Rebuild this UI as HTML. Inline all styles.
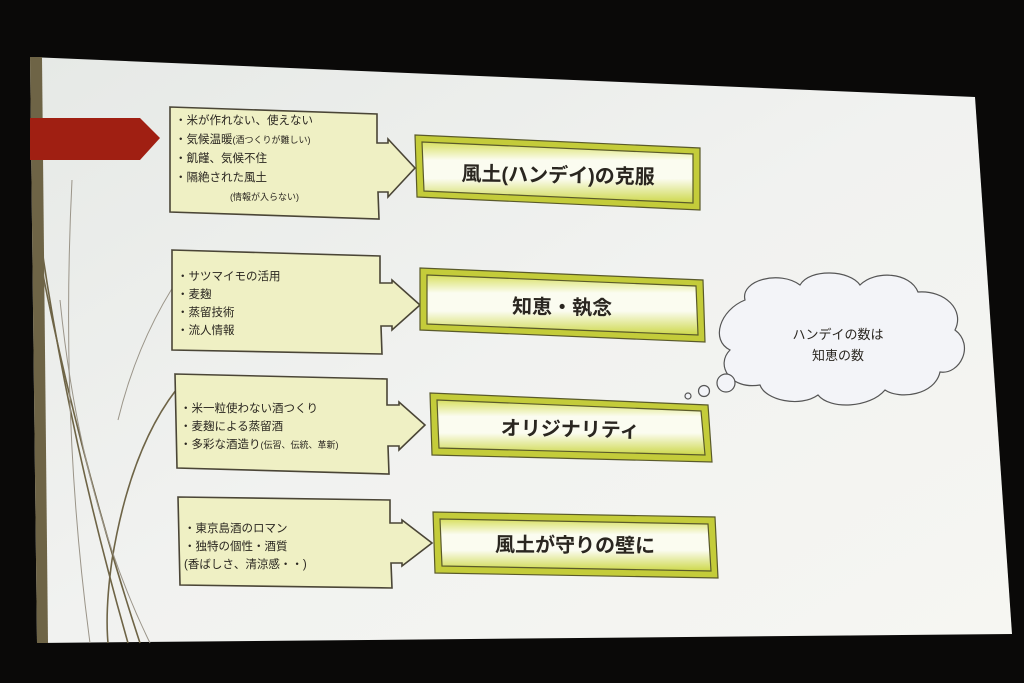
<!DOCTYPE html>
<html><head><meta charset="utf-8"><style>
html,body{margin:0;padding:0;background:#0a0908;}
svg{display:block}
text{font-family:"Liberation Sans","Noto Sans CJK JP",sans-serif;fill:#2a2620;}
</style></head><body>
<svg width="1024" height="683" viewBox="0 0 1024 683" xmlns="http://www.w3.org/2000/svg">
<defs>
<linearGradient id="bg" x1="0" y1="0" x2="1" y2="1">
<stop offset="0" stop-color="#e6e9e6"/><stop offset="0.5" stop-color="#f1f2f0"/><stop offset="1" stop-color="#f6f6f2"/>
</linearGradient>
<linearGradient id="inner" x1="0" y1="0" x2="0" y2="1">
<stop offset="0" stop-color="#d8e060"/><stop offset="0.3" stop-color="#fbfcf0"/><stop offset="0.6" stop-color="#fbfcf0"/><stop offset="1" stop-color="#cdd84a"/>
</linearGradient>
</defs>
<rect width="1024" height="683" fill="#0a0908"/>
<polygon points="30,57 975,97 1012,634 37,643" fill="url(#bg)"/>
<polygon points="30,57 42,57 48,643 37,643" fill="#6e6446"/>
<g fill="none" stroke="#6e6446" stroke-width="1.6">
<path d="M42,250 Q70,440 128,643"/>
<path d="M42,270 Q80,460 140,643"/>
<path d="M176,390 Q130,450 112,560 Q105,610 108,643"/>
</g>
<g fill="none" stroke="#9a9488" stroke-width="1">
<path d="M72,180 Q60,420 90,643"/>
<path d="M190,262 Q140,330 118,420"/>
<path d="M60,300 Q80,500 150,643"/>
</g>
<polygon points="30,118 140,118 160,138 140,160 30,160" fill="#a01f12"/>
<g fill="#eff0c4" stroke="#4a4536" stroke-width="1.6">
<polygon points="170,107 377,114 377,143 388,143 388,139 415,168 388,197 388,192 378,192 379,219 170,212"/>
<polygon points="172,250 380,256 380,283 392,283 392,280 420,305 392,330 392,326 381,326 382,354 172,350"/>
<polygon points="175,374 387,379 387,405 399,405 399,402 425,425 399,450 399,446 388,446 389,474 177,468"/>
<polygon points="178,497 390,500 390,523 402,523 402,520 432,543 402,566 402,563 391,563 392,588 180,585"/>
</g>
<g font-size="11.5">
<text x="175" y="124">・米が作れない、使えない</text>
<text x="175" y="143">・気候温暖<tspan font-size="9">(酒つくりが難しい)</tspan></text>
<text x="175" y="162">・飢饉、気候不住</text>
<text x="175" y="181">・隔絶された風土</text>
<text x="230" y="200" font-size="9">(情報が入らない)</text>
<text x="177" y="280">・サツマイモの活用</text>
<text x="177" y="298">・麦麹</text>
<text x="177" y="316">・蒸留技術</text>
<text x="177" y="334">・流人情報</text>
<text x="180" y="412">・米一粒使わない酒つくり</text>
<text x="180" y="430">・麦麹による蒸留酒</text>
<text x="180" y="448">・多彩な酒造り<tspan font-size="9">(伝習、伝統、革新)</tspan></text>
<text x="184" y="532">・東京島酒のロマン</text>
<text x="184" y="550">・独特の個性・酒質</text>
<text x="184" y="568">(香ばしさ、清涼感・・)</text>
</g>
<g stroke="#5a5a2a" stroke-width="1.2">
<polygon points="415,135 700,148 700,210 417,197" fill="#c4cc3a"/>
<polygon points="422,142 693,154 693,203 424,191" fill="url(#inner)"/>
<polygon points="420,268 703,280 705,342 420,330" fill="#c4cc3a"/>
<polygon points="427,275 696,286 698,335 427,324" fill="url(#inner)"/>
<polygon points="430,393 708,405 712,462 432,455" fill="#c4cc3a"/>
<polygon points="437,400 701,411 705,455 439,448" fill="url(#inner)"/>
<polygon points="433,512 715,517 718,578 435,573" fill="#c4cc3a"/>
<polygon points="440,519 708,524 711,571 442,566" fill="url(#inner)"/>
</g>
<g font-size="20" font-weight="bold" text-anchor="middle">
<text x="558" y="182" transform="rotate(1 558 182)">風土(ハンデイ)の克服</text>
<text x="562" y="314" transform="rotate(1 562 314)">知恵・執念</text>
<text x="570" y="436" transform="rotate(1 570 436)">オリジナリティ</text>
<text x="575" y="552" transform="rotate(0.5 575 552)">風土が守りの壁に</text>
</g>
<g fill="#f3f4f8" stroke="#555" stroke-width="1.2">
<path d="M745,300 C740,280 780,270 800,285 C810,268 850,270 860,285 C875,270 910,272 918,292 C945,290 965,310 955,330 C975,345 960,375 940,372 C935,395 900,400 885,390 C870,408 830,410 818,395 C800,408 765,400 760,385 C730,390 715,365 730,350 C710,340 720,310 745,300 Z"/>
<circle cx="726" cy="383" r="9"/>
<circle cx="704" cy="391" r="5.5"/>
<circle cx="688" cy="396" r="3"/>
</g>
<g font-size="13" text-anchor="middle">
<text x="838" y="339">ハンデイの数は</text>
<text x="838" y="360">知恵の数</text>
</g>
</svg>
</body></html>
